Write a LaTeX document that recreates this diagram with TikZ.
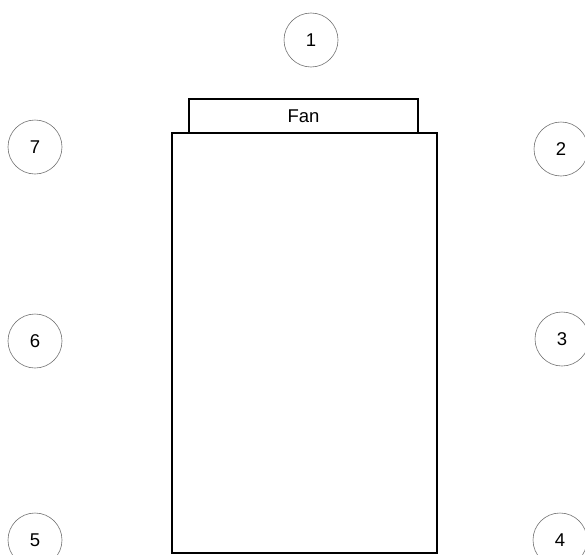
\documentclass[tikz,border=0pt]{standalone}
\usepackage{fontspec}
\setmainfont{Liberation Sans}
\begin{document}
\begin{tikzpicture}[x=1pt,y=-1pt,
  num/.style={circle,draw=black!55,line width=0.6pt,minimum size=54pt,inner sep=0pt,font=\fontsize{18.5}{20}\selectfont},
  box/.style={draw=black,line width=1.1pt,inner sep=0pt}]
\useasboundingbox (0,0) rectangle (585,554);
\node[num] (n1) at (311,40) {1};
\node[num] (n2) at (561,149) {2};
\node[num] (n3) at (562,339) {3};
\node[num] (n4) at (560,540) {4};
\node[num] (n5) at (35,540) {5};
\node[num] (n6) at (35,341) {6};
\node[num] (n7) at (35,147) {7};
\draw[box] (189,99) rectangle (418,133);
\node[font=\fontsize{18.5}{20}\selectfont] (fan) at (303.5,116) {Fan};
\draw[box] (172,133) rectangle (437,553);
\end{tikzpicture}
\end{document}
